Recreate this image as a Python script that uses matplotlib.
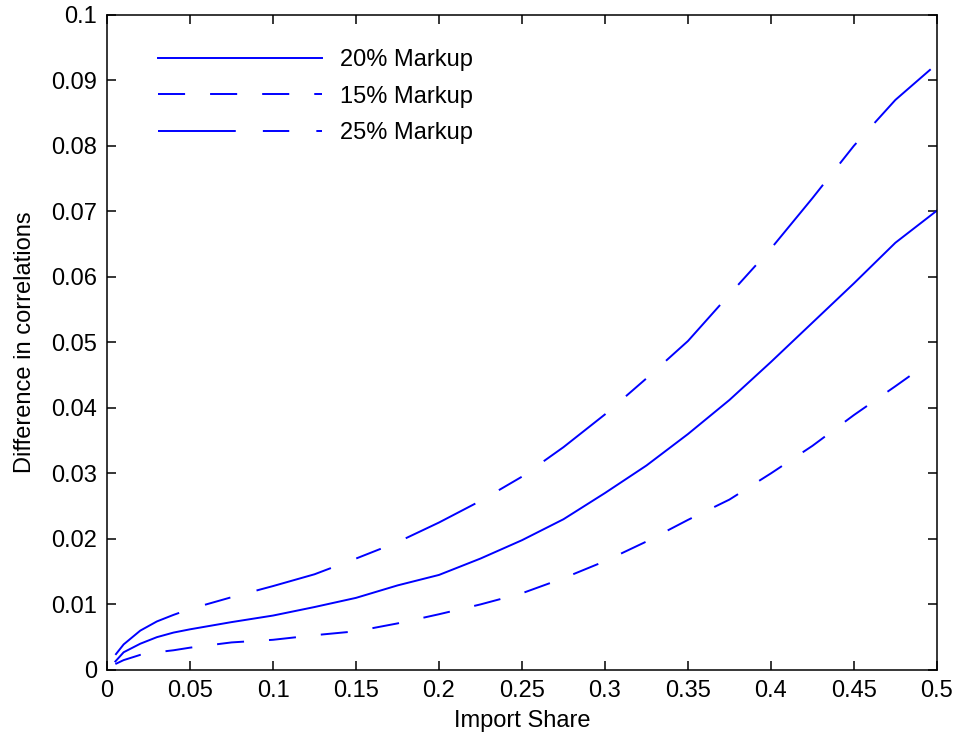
import numpy as np
import matplotlib
matplotlib.use("Agg")
import matplotlib.pyplot as plt

plt.rcParams['font.family'] = ['Liberation Sans', 'DejaVu Sans']
plt.rcParams['lines.scale_dashes'] = False

# import share grid
x = [0.005, 0.01, 0.02, 0.03, 0.04, 0.05, 0.075, 0.1, 0.125, 0.15, 0.175, 0.2,
     0.225, 0.25, 0.275, 0.3, 0.325, 0.35, 0.375, 0.4, 0.425, 0.45, 0.475, 0.5]

markup20 = [0.0013, 0.0027, 0.0040, 0.0050, 0.0057, 0.0062, 0.0073, 0.0083,
            0.0096, 0.0110, 0.0129, 0.0145, 0.0170, 0.0198, 0.0230, 0.0270,
            0.0312, 0.0360, 0.0412, 0.0470, 0.0530, 0.0590, 0.0652, 0.0701]

markup25 = [0.0023, 0.0039, 0.0060, 0.0074, 0.0084, 0.0093, 0.0111, 0.0128,
            0.0146, 0.0170, 0.0195, 0.0225, 0.0258, 0.0295, 0.0340, 0.0390,
            0.0445, 0.0502, 0.0573, 0.0643, 0.0720, 0.0800, 0.0870, 0.0925]

x15 = x[:-1] + [0.49]
markup15 = [0.0009, 0.0015, 0.0023, 0.0027, 0.0030, 0.0034, 0.0042, 0.0046,
            0.0053, 0.0059, 0.0071, 0.0085, 0.0100, 0.0117, 0.0140, 0.0166,
            0.0196, 0.0229, 0.0260, 0.0300, 0.0342, 0.0389, 0.0433, 0.0460]

fig = plt.figure(figsize=(9.56, 7.37), dpi=100)
ax = fig.add_axes([0.112, 0.091, 0.868, 0.889])

blue = '#0000ff'
lw = 1.4
fs = 17
ax.plot(x, markup20, color=blue, lw=lw, label='20% Markup')
ax.plot(x15, markup15, color=blue, lw=lw, dashes=(19.5, 18), label='15% Markup')
ax.plot(x, markup25, color=blue, lw=lw, dashes=(56, 19.5, 19, 19.5), label='25% Markup')

ax.set_xlim(0, 0.5)
ax.set_ylim(0, 0.1)
ax.set_xticks(np.arange(0, 0.501, 0.05))
ax.set_yticks(np.arange(0, 0.1001, 0.01))
ax.set_xticklabels(['0', '0.05', '0.1', '0.15', '0.2', '0.25', '0.3', '0.35', '0.4', '0.45', '0.5'])
ax.set_yticklabels(['0', '0.01', '0.02', '0.03', '0.04', '0.05', '0.06', '0.07', '0.08', '0.09', '0.1'])
ax.tick_params(direction='in', length=6.5, width=1.1, top=True, right=True,
               labelsize=fs, pad=7)
for s in ax.spines.values():
    s.set_linewidth(1.1)

ax.set_xlabel('Import Share', fontsize=fs, labelpad=6)
ax.set_ylabel('Difference in correlations', fontsize=fs, labelpad=11)

ax.legend(loc='upper left', frameon=False, fontsize=fs, handlelength=6.95,
          handletextpad=0.76, labelspacing=0.62, borderaxespad=0.0,
          bbox_to_anchor=(0.05, 0.962))

fig.savefig('out.png', dpi=100)
